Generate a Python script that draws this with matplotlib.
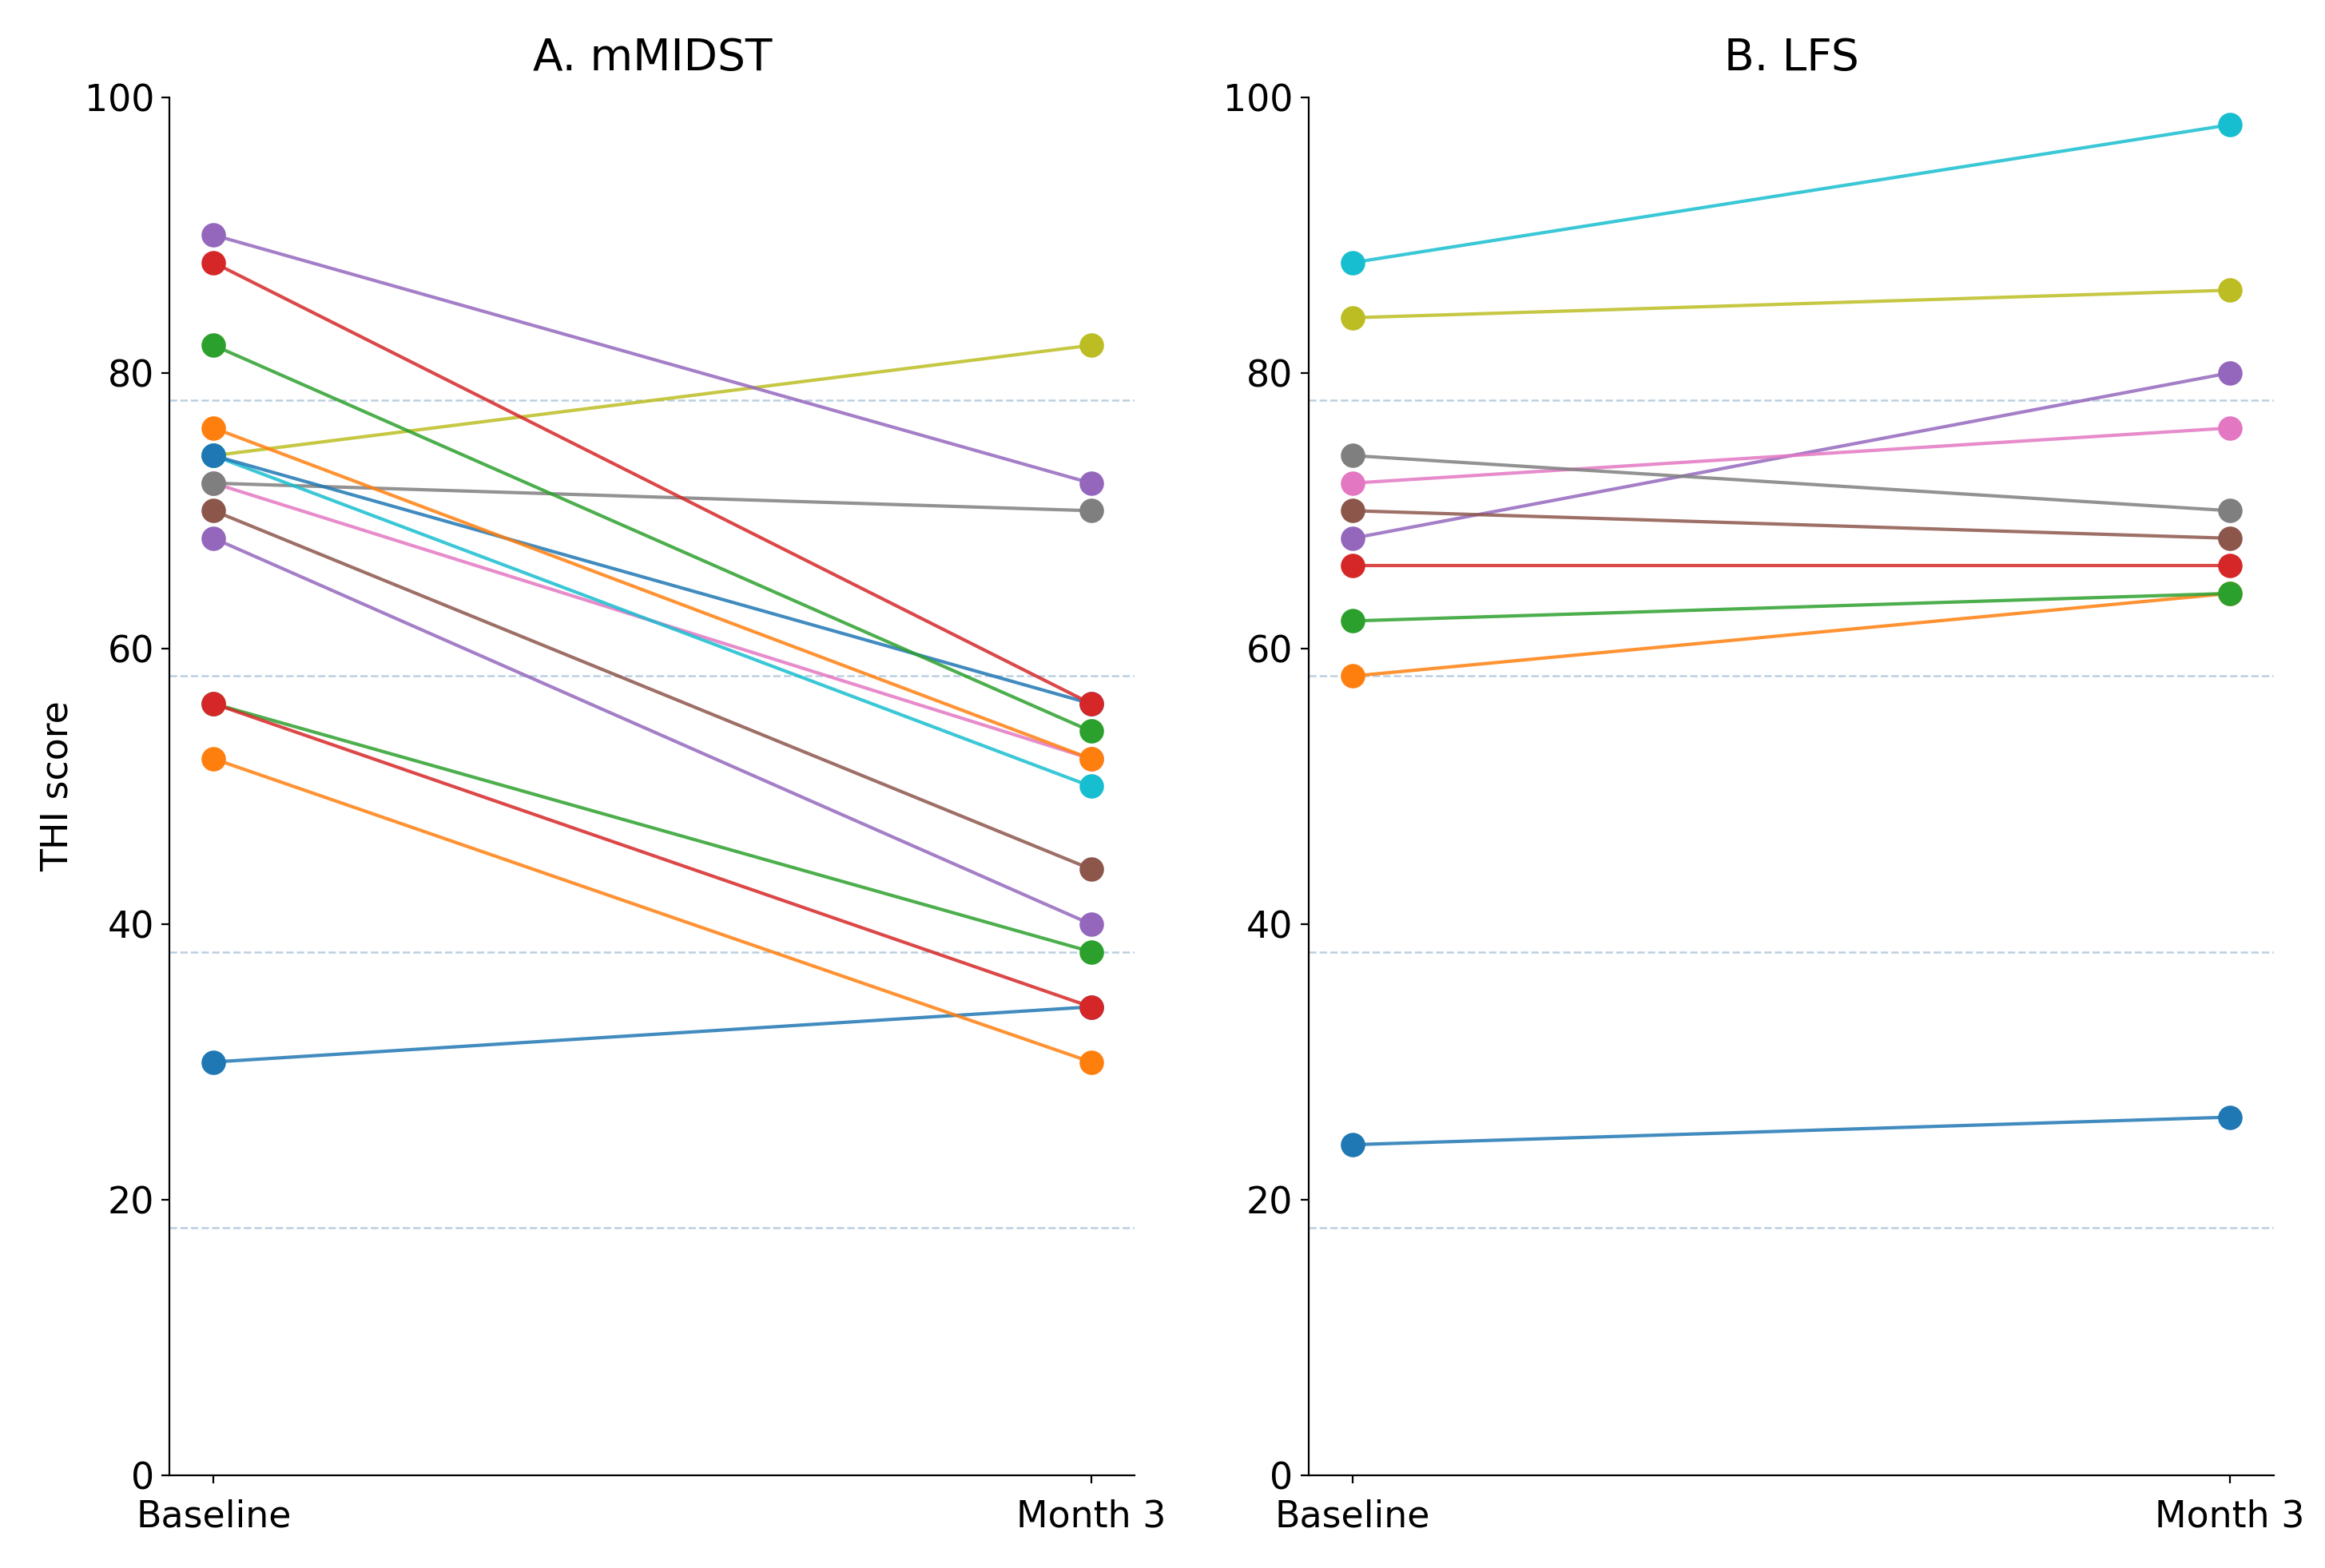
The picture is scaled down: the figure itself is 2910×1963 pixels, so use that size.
import matplotlib
matplotlib.use("Agg")
import matplotlib.pyplot as plt

timepoints = ["Baseline", "Month 3"]

# THI scores per patient (sorted by baseline)
mmidst_baseline = [30, 52, 56, 56, 68, 70, 72, 72, 74, 74, 74, 76, 82, 88, 90]
mmidst_month3 = [34, 30, 38, 34, 40, 44, 52, 70, 82, 50, 56, 52, 54, 56, 72]

lfs_baseline = [24, 58, 62, 66, 68, 70, 72, 74, 84, 88]
lfs_month3 = [26, 64, 64, 66, 80, 68, 76, 70, 86, 98]

ref_lines = [18, 38, 58, 78]

plt.rcParams['font.size'] = 16.5

fig, axes = plt.subplots(1, 2, figsize=(14.55, 9.815), dpi=200)
fig.subplots_adjust(left=0.073, right=0.978, bottom=0.059, top=0.938, wspace=0.18)

panels = [
    (axes[0], "A. mMIDST", mmidst_baseline, mmidst_month3),
    (axes[1], "B. LFS", lfs_baseline, lfs_month3),
]

for ax, title, base, m3 in panels:
    for y in ref_lines:
        ax.axhline(y, color='#8fb0cc', lw=0.9, ls='--', alpha=0.6, zorder=0)
    for i, (b, m) in enumerate(zip(base, m3)):
        c = 'C%d' % (i % 10)
        ax.plot([0, 1], [b, m], '-', color=c, lw=1.5, alpha=0.85)
        ax.plot([0, 1], [b, m], 'o', color=c, ms=10)
    ax.set_xticks([0, 1])
    ax.set_xticklabels(timepoints)
    ax.tick_params(axis='x', pad=7)
    ax.set_ylim(0, 100)
    ax.set_yticks(range(0, 101, 20))
    ax.set_title(title, fontsize=19.8, pad=12)
    ax.spines['top'].set_visible(False)
    ax.spines['right'].set_visible(False)

axes[0].set_ylabel('THI score')

fig.savefig('out.png')
